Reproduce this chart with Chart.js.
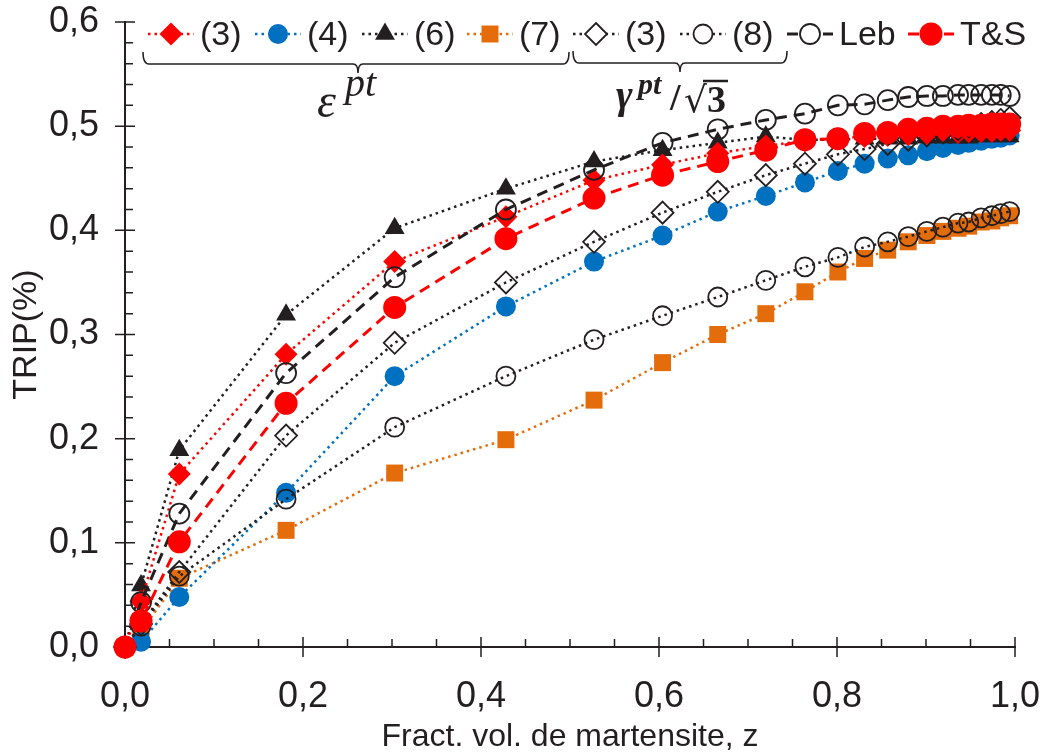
<!DOCTYPE html>
<html>
<head>
<meta charset="utf-8">
<script src="https://cdn.jsdelivr.net/npm/chart.js@4.4.0/dist/chart.umd.min.js"></script>
<style>
  html, body { margin: 0; padding: 0; background: #fff; }
  #wrap { width: 1040px; height: 756px; }
</style>
</head>
<body>
<div id="wrap"><canvas id="tripChart" width="1040" height="756"></canvas></div>
<script>
// ---- DATA ----
const zFrac = [0, 0.018, 0.061, 0.181, 0.303, 0.428, 0.527, 0.604, 0.666, 0.720,
  0.764, 0.801, 0.831, 0.857, 0.880, 0.901, 0.919, 0.936, 0.948, 0.962, 0.974, 0.984, 0.994];

const eps3 = [0, 0.044, 0.166, 0.281, 0.370, 0.413, 0.448, 0.463, 0.474, 0.481,
  0.486, 0.488, 0.490, 0.491, 0.492, 0.493, 0.494, 0.494, 0.495, 0.495, 0.495, 0.496, 0.496];
const eps4 = [0, 0.005, 0.048, 0.148, 0.260, 0.327, 0.370, 0.395, 0.418, 0.433,
  0.446, 0.457, 0.464, 0.469, 0.472, 0.476, 0.479, 0.482, 0.484, 0.486, 0.488, 0.489, 0.491];
const eps6 = [0, 0.059, 0.189, 0.319, 0.402, 0.440, 0.466, 0.477, 0.484, 0.490,
  0.487, 0.487, 0.488, 0.488, 0.488, 0.489, 0.489, 0.489, 0.489, 0.490, 0.490, 0.490, 0.490];
const eps7 = [0, 0.015, 0.066, 0.112, 0.167, 0.199, 0.237, 0.273, 0.300, 0.320,
  0.341, 0.360, 0.373, 0.381, 0.389, 0.395, 0.399, 0.402, 0.404, 0.408, 0.409, 0.412, 0.414];
const gam3 = [0, 0.022, 0.072, 0.203, 0.292, 0.350, 0.389, 0.417, 0.437, 0.453,
  0.464, 0.473, 0.478, 0.483, 0.487, 0.491, 0.494, 0.497, 0.500, 0.502, 0.504, 0.506, 0.508];
const gam8 = [0, 0.020, 0.068, 0.142, 0.211, 0.260, 0.295, 0.318, 0.336, 0.352,
  0.365, 0.374, 0.384, 0.389, 0.394, 0.399, 0.403, 0.407, 0.408, 0.412, 0.414, 0.416, 0.418];
const leb = [0, 0.043, 0.128, 0.263, 0.355, 0.420, 0.458, 0.484, 0.497, 0.506,
  0.512, 0.520, 0.521, 0.525, 0.528, 0.529, 0.529, 0.530, 0.530, 0.530, 0.530, 0.530, 0.529];
const ts = [0, 0.025, 0.101, 0.234, 0.326, 0.392, 0.431, 0.453, 0.466, 0.477,
  0.487, 0.488, 0.493, 0.494, 0.497, 0.498, 0.500, 0.500, 0.501, 0.501, 0.502, 0.502, 0.502];

const xTickLabels = ['0,0', '0,2', '0,4', '0,6', '0,8', '1,0'];
const yTickLabels = ['0,0', '0,1', '0,2', '0,3', '0,4', '0,5', '0,6'];
const legendLabels = ['(3)', '(4)', '(6)', '(7)', '(3)', '(8)', 'Leb', 'T&S'];

// ---- STYLES ----
const RED = '#ff0000';
const BLUE = '#0070c0';
const ORANGE = '#e46c0a';
const BLACK = '#231f20';
const DOT = [2.5, 4];
const DASH = [11, 7];
const FONT = '"Liberation Sans Narrow", "Arial Narrow", "Liberation Sans", Arial, sans-serif';
const SERIF = '"Liberation Serif", "DejaVu Serif", serif';

function pts(vals) {
  return vals.map((v, i) => ({ x: zFrac[i], y: v }));
}

function series(label, vals, color, style, r, fill, dash, order) {
  return {
    label,
    data: pts(vals),
    borderColor: color,
    backgroundColor: color,
    borderWidth: 2.5,
    borderDash: dash,
    pointStyle: style,
    pointRadius: r,
    pointHoverRadius: r,
    pointBackgroundColor: fill,
    pointBorderColor: fill === 'transparent' ? BLACK : fill,
    pointBorderWidth: fill === 'transparent' ? 1.8 : 0,
    tension: 0,
    clip: false,
    order
  };
}

const datasets = [
  series('(3)', eps3, RED, 'rectRot', 11.5, RED, DOT, 4),
  series('(4)', eps4, BLUE, 'circle', 10, BLUE, DOT, 6),
  series('(6)', eps6, BLACK, 'triangle', 11.5, BLACK, DOT, 5),
  series('(7)', eps7, ORANGE, 'rect', 12, ORANGE, DOT, 7),
  series('(3)g', gam3, BLACK, 'rectRot', 11, 'transparent', DOT, 3),
  series('(8)', gam8, BLACK, 'circle', 9.5, 'transparent', DOT, 2),
  series('Leb', leb, BLACK, 'circle', 10, 'transparent', DASH, 1),
  series('T&S', ts, RED, 'circle', 11.5, RED, DASH, 0)
];
datasets[6].borderWidth = 3;
datasets[7].borderWidth = 3;

// ---- MARKERS (legend) ----
function drawMarker(ctx, ds, x, y) {
  const r = ds.pointRadius;
  ctx.save();
  ctx.setLineDash([]);
  ctx.beginPath();
  if (ds.pointStyle === 'circle') {
    ctx.arc(x, y, r, 0, Math.PI * 2);
  } else if (ds.pointStyle === 'rectRot') {
    ctx.moveTo(x, y - r); ctx.lineTo(x + r, y); ctx.lineTo(x, y + r); ctx.lineTo(x - r, y);
    ctx.closePath();
  } else if (ds.pointStyle === 'rect') {
    const s = r * Math.SQRT1_2;
    ctx.rect(x - s, y - s, 2 * s, 2 * s);
  } else if (ds.pointStyle === 'triangle') {
    ctx.moveTo(x, y - r);
    ctx.lineTo(x + r * 0.866, y + r / 2);
    ctx.lineTo(x - r * 0.866, y + r / 2);
    ctx.closePath();
  }
  if (ds.pointBackgroundColor !== 'transparent') {
    ctx.fillStyle = ds.pointBackgroundColor;
    ctx.fill();
  } else {
    ctx.fillStyle = '#fff';
    ctx.fill();
    ctx.strokeStyle = BLACK;
    ctx.lineWidth = 1.8;
    ctx.stroke();
  }
  ctx.restore();
}

// ---- CUSTOM DRAWING: ticks, legend, braces ----
const extrasPlugin = {
  id: 'extras',
  beforeDatasetsDraw(chart) {
    const ctx = chart.ctx;
    const xs = chart.scales.x, ys = chart.scales.y;
    const left = chart.chartArea.left, bottom = chart.chartArea.bottom;
    ctx.save();
    ctx.strokeStyle = BLACK;
    ctx.lineWidth = 1.5;
    ctx.beginPath();
    for (let i = 0; i <= 30; i++) {
      const y = ys.getPixelForValue(i * 0.02);
      if (i % 5 === 0) { ctx.moveTo(left - 10, y); ctx.lineTo(left + 10, y); }
      else { ctx.moveTo(left, y); ctx.lineTo(left + 8, y); }
    }
    for (let i = 0; i <= 20; i++) {
      const x = xs.getPixelForValue(i * 0.05);
      if (i % 4 === 0) { ctx.moveTo(x, bottom - 10); ctx.lineTo(x, bottom + 10); }
      else { ctx.moveTo(x, bottom); ctx.lineTo(x, bottom - 8); }
    }
    ctx.stroke();
    ctx.restore();
  },
  afterDraw(chart) {
    const ctx = chart.ctx;
    const legendX = [148, 255, 362, 467, 573, 680, 787, 908];
    const ly = 34;
    ctx.save();
    datasets.forEach((ds, i) => {
      const x0 = legendX[i];
      ctx.strokeStyle = ds.borderColor;
      ctx.lineWidth = ds.borderWidth;
      ctx.setLineDash(ds.borderDash);
      ctx.beginPath();
      ctx.moveTo(x0, ly);
      ctx.lineTo(x0 + 46, ly);
      ctx.stroke();
      drawMarker(ctx, ds, x0 + 23, ly);
      ctx.setLineDash([]);
      ctx.fillStyle = BLACK;
      ctx.font = '34px ' + FONT;
      ctx.textBaseline = 'middle';
      ctx.textAlign = 'left';
      ctx.fillText(legendLabels[i], x0 + 52, ly + 2);
    });

    // braces
    ctx.strokeStyle = BLACK;
    ctx.lineWidth = 1.5;
    ctx.setLineDash([]);
    function brace(a, b, mid, y) {
      ctx.beginPath();
      ctx.moveTo(a, y - 12);
      ctx.quadraticCurveTo(a, y, a + 6, y);
      ctx.lineTo(mid - 5, y);
      ctx.quadraticCurveTo(mid, y, mid, y + 9);
      ctx.quadraticCurveTo(mid, y, mid + 5, y);
      ctx.lineTo(b - 6, y);
      ctx.quadraticCurveTo(b, y, b, y - 12);
      ctx.stroke();
    }
    brace(143, 569, 358, 64);
    brace(573, 787, 680, 63);

    // epsilon^pt
    ctx.fillStyle = BLACK;
    ctx.textBaseline = 'alphabetic';
    ctx.font = 'italic 48px ' + SERIF;
    ctx.fillText('\u03B5', 317, 117);
    ctx.font = 'italic 40px ' + SERIF;
    ctx.fillText('pt', 345, 96);

    // gamma^pt / sqrt(3)
    ctx.font = 'bold italic 40px ' + SERIF;
    ctx.fillText('\u03B3', 616, 108);
    ctx.font = 'bold italic 30px ' + SERIF;
    ctx.fillText('pt', 638, 94);
    ctx.font = 'bold 38px ' + SERIF;
    ctx.fillText('/', 670, 110);
    ctx.font = '36px "DejaVu Sans", sans-serif';
    ctx.fillText('\u221A', 684, 112);
    ctx.font = 'bold 38px ' + SERIF;
    ctx.fillText('3', 707, 112);
    ctx.lineWidth = 2.5;
    ctx.beginPath();
    ctx.moveTo(703, 81);
    ctx.lineTo(728, 81);
    ctx.stroke();
    ctx.restore();
  }
};

// ---- CHART ----
const ctx = document.getElementById('tripChart');
new Chart(ctx, {
  type: 'line',
  data: { datasets },
  options: {
    responsive: false,
    devicePixelRatio: 1,
    animation: false,
    layout: { padding: { top: 22, right: 25, left: 0, bottom: 0 } },
    plugins: { legend: { display: false }, tooltip: { enabled: false } },
    scales: {
      x: {
        type: 'linear',
        min: 0, max: 1,
        grid: { display: false, drawTicks: false },
        border: { display: true, color: BLACK, width: 2 },
        ticks: {
          stepSize: 0.2,
          padding: 28,
          color: BLACK,
          font: { family: FONT, size: 36 },
          callback: (v) => xTickLabels[Math.round(v / 0.2)]
        },
        title: {
          display: true,
          text: 'Fract. vol. de martensite, z',
          color: BLACK,
          font: { family: FONT, size: 32 },
          padding: { top: 0, bottom: 0 }
        },
        afterFit: (s) => { s.height = 109; s.paddingLeft = 0; s.paddingRight = 0; }
      },
      y: {
        min: 0, max: 0.6,
        grid: { display: false, drawTicks: false },
        border: { display: true, color: BLACK, width: 2 },
        ticks: {
          stepSize: 0.1,
          padding: 26,
          color: BLACK,
          font: { family: FONT, size: 36 },
          callback: (v) => yTickLabels[Math.round(v / 0.1)]
        },
        title: {
          display: true,
          text: 'TRIP(%)',
          color: BLACK,
          font: { family: FONT, size: 34 },
          padding: { top: 6, bottom: 0 }
        },
        afterFit: (s) => { s.width = 125; s.paddingTop = 0; s.paddingBottom = 0; }
      }
    }
  },
  plugins: [extrasPlugin]
});
</script>
</body>
</html>
